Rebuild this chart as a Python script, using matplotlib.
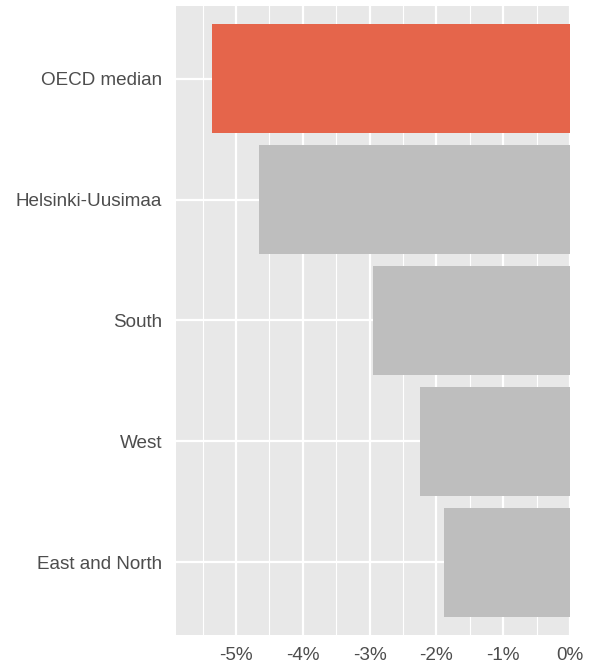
import matplotlib
matplotlib.use('Agg')
import matplotlib.pyplot as plt
from matplotlib.ticker import MultipleLocator, FuncFormatter

# Data
regions = ['OECD median', 'Helsinki-Uusimaa', 'South', 'West', 'East and North']
values = [-5.36, -4.66, -2.95, -2.24, -1.88]
colors = ['#E5654B', '#BEBEBE', '#BEBEBE', '#BEBEBE', '#BEBEBE']

plt.rcParams['font.family'] = ['Liberation Sans', 'DejaVu Sans']

fig = plt.figure(figsize=(5.89, 6.70), dpi=100)
ax = fig.add_axes([176 / 589, 35 / 670, 394 / 589, 629 / 670])

ypos = list(range(len(regions)))[::-1]
ax.barh(ypos, values, height=0.9, color=colors, zorder=3)

ax.set_xlim(-5.9, 0)
ax.set_ylim(-0.6, 4.6)
ax.set_facecolor('#E8E8E8')
ax.xaxis.set_major_locator(MultipleLocator(1))
ax.xaxis.set_minor_locator(MultipleLocator(0.5))
ax.xaxis.set_major_formatter(FuncFormatter(lambda v, p: f'{v:.0f}%'))
ax.set_yticks(ypos)
ax.set_yticklabels(regions)
ax.grid(which='major', color='white', linewidth=1.6, zorder=1)
ax.grid(which='minor', axis='x', color='white', linewidth=0.8, zorder=1)
ax.tick_params(which='both', length=0, labelsize=13.6, labelcolor='#4D4D4D')
ax.tick_params(axis='x', pad=9)
ax.tick_params(axis='y', pad=10)
for s in ax.spines.values():
    s.set_visible(False)

fig.savefig('out.png', dpi=100)
